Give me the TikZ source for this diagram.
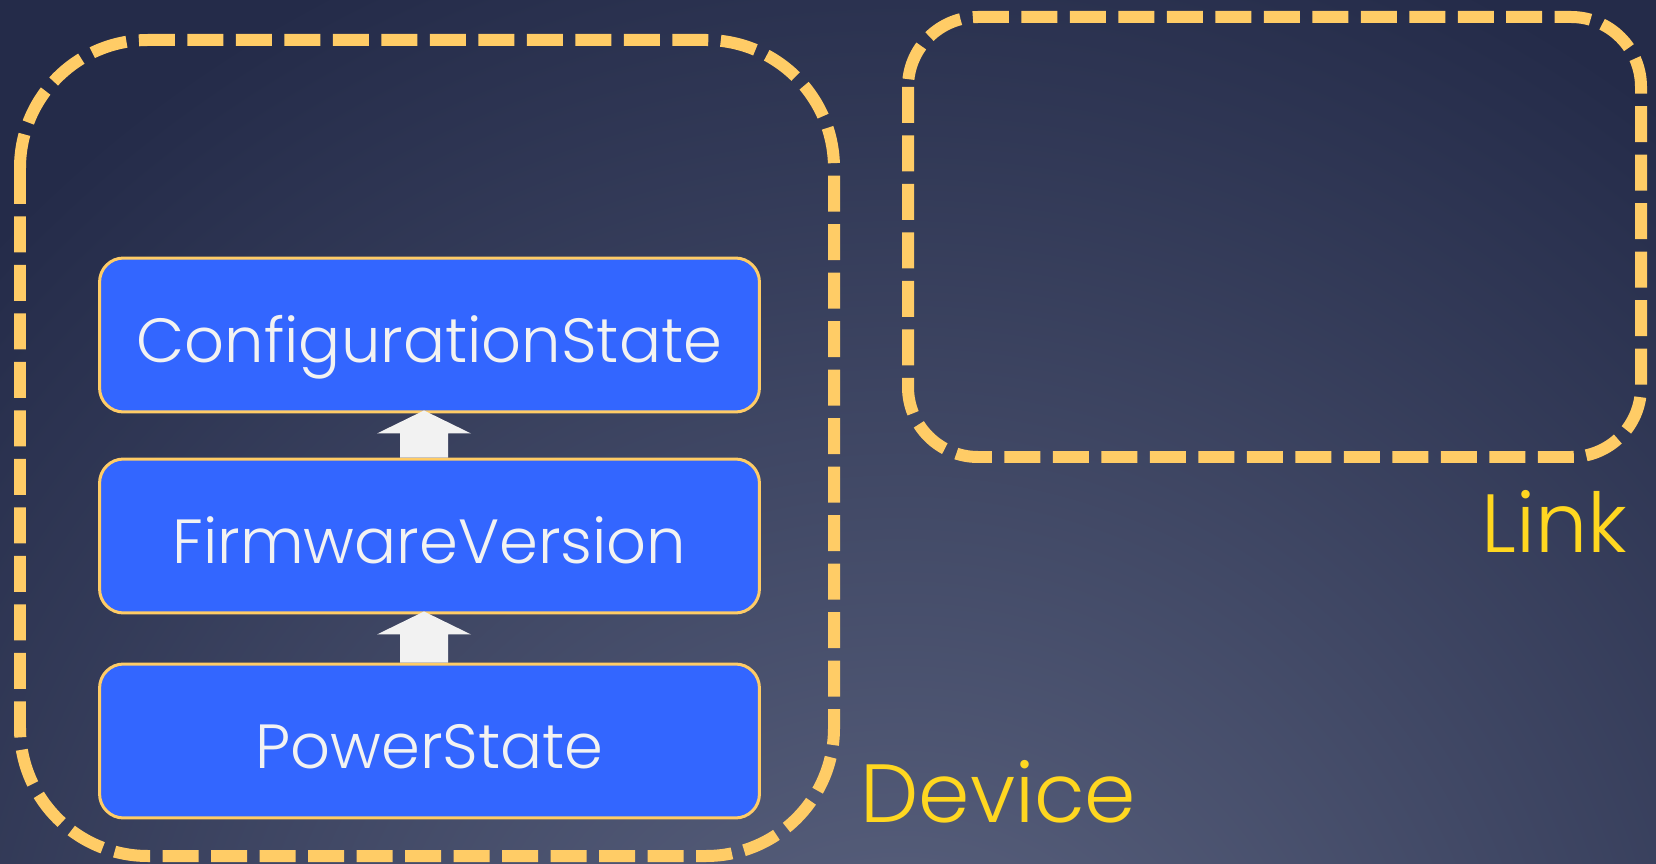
\documentclass[tikz,border=0pt]{standalone}
\usepackage{fontspec}
\setmainfont{Poppins}[UprightFont=* Light]
\usetikzlibrary{calc,positioning}
\definecolor{bgtop}{RGB}{36,43,73}
\definecolor{bglight}{RGB}{94,102,130}
\definecolor{boxblue}{RGB}{51,102,255}
\definecolor{edgegold}{RGB}{255,204,102}
\definecolor{labelgold}{RGB}{255,215,32}
\definecolor{arrowwhite}{RGB}{242,242,242}

\begin{document}
\begin{tikzpicture}[x=0.02cm, y=-0.02cm,
            layer/.style={
            draw=edgegold,
            fill=boxblue,
            line width=0.06cm,
            rounded corners=0.48cm,
            rectangle,
            minimum width=13.2cm,
            minimum height=3.08cm,
            text height=1.1cm,
            text depth=0cm,
            text=arrowwhite,
            font=\fontsize{35.5}{40}\selectfont},
            region/.style={
            draw=edgegold,
            line width=0.24cm,
            dash pattern=on 0.72cm off 0.25cm},
            regionlabel/.style={
            anchor=base west,
            inner sep=0,
            text=labelgold,
            font=\fontsize{47}{50}\selectfont},
            uparrow/.style={
            fill=arrowwhite}]

           \useasboundingbox (0,0) rectangle (1656,864);
           \begin{scope}
                      \clip (0,0) rectangle (1656,864);
                      \fill[bgtop] (0,0) rectangle (1656,864);
                      \shade[inner color=bglight, outer color=bgtop] (900,1100) circle (1250);
           \end{scope}

           \draw[region, rounded corners=2.56cm] (20,40) rectangle (834,856);
           \draw[region, rounded corners=1.4cm] (908,17) rectangle (1641,457);

           \foreach \name/\txt/\y in {pwr/PowerState/741, fw/FirmwareVersion/536, cfg/ConfigurationState/335}
           {
                      \node[layer] (\name) at (429.5,\y) {\txt};
           }

           \foreach \lo/\hi in {pwr/fw, fw/cfg}
           {
                      \fill[uparrow] ($(\lo.north)+(-29.5,0)$) -- ($(\hi.south)+(-29.5,20)$) -- ($(\hi.south)+(-52.5,20)$)
                      -- ($(\hi.south)+(-5.5,-3)$) -- ($(\hi.south)+(41.5,20)$) -- ($(\hi.south)+(18.5,20)$)
                      -- ($(\lo.north)+(18.5,0)$) -- cycle;
           }

           \node[regionlabel] (device) at (860,822) {Device};
           \node[regionlabel] (link) at (1481,552) {Link};
\end{tikzpicture}
\end{document}
